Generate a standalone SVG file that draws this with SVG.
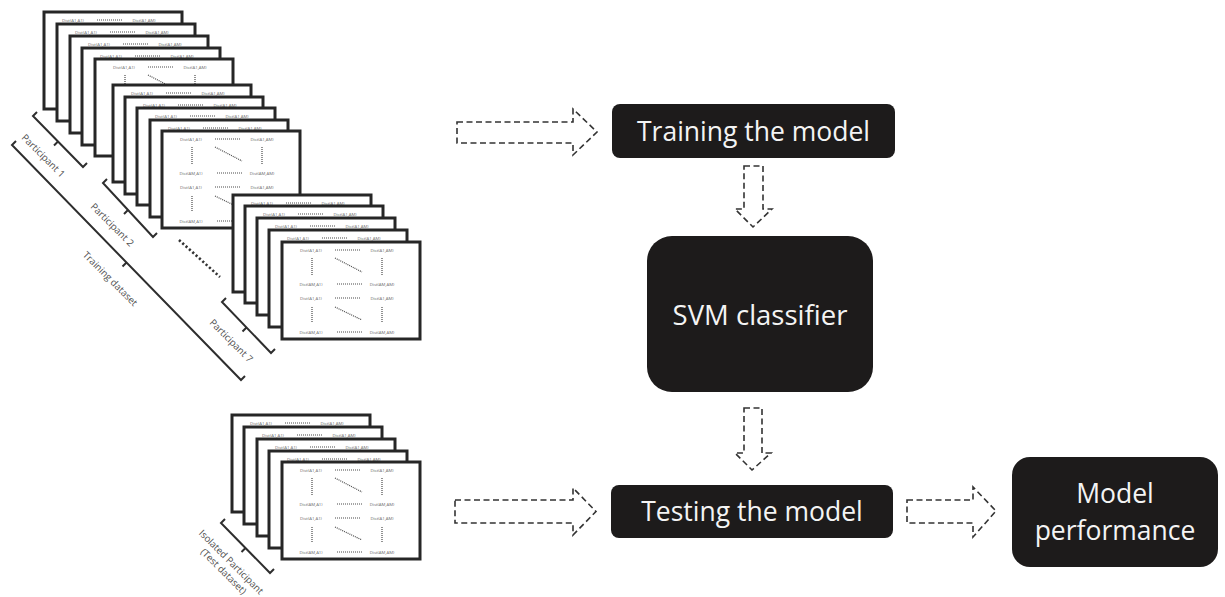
<svg xmlns="http://www.w3.org/2000/svg" xmlns:xlink="http://www.w3.org/1999/xlink" width="1225" height="597" viewBox="0 0 1225 597">
  <style>
    .cell { font-family: "Open Sans", "Liberation Sans", sans-serif; font-size: 4.3px; fill: #6a6a6a; text-anchor: middle; }
    .dots { stroke: #4a4a4a; stroke-width: 1.2; stroke-dasharray: 1 1; fill: none; }
    .frame { fill: #ffffff; stroke: #262626; stroke-width: 3; }
    .bracket { fill: none; stroke: #2e2e2e; stroke-width: 2; stroke-linejoin: miter; }
    .lbl { font-family: "Open Sans", "Liberation Sans", sans-serif; font-size: 9.6px; fill: #4f4f4f; text-anchor: middle; }
    .flow { fill: none; stroke: #333333; stroke-width: 1.6; stroke-dasharray: 6 3.5; }
    .box { fill: #1d1b1b; }
    .boxtext { font-family: "Open Sans", "Liberation Sans", sans-serif; font-size: 26.5px; fill: #f4f4f4; text-anchor: middle; }
  </style>
  <defs>
    <!-- one distance-matrix sheet, 138 x 97 -->
    <g id="sheet">
      <rect class="frame" x="0" y="0" width="138" height="97"/>
      <text class="cell" x="29" y="9.5">Dist(A1,A1)</text>
      <line class="dots" x1="53" y1="8" x2="78" y2="8"/>
      <text class="cell" x="100" y="9.5">Dist(A1,AM)</text>
      <line class="dots" x1="30" y1="16" x2="30" y2="33"/>
      <line class="dots" x1="53" y1="16" x2="80" y2="30"/>
      <line class="dots" x1="100" y1="16" x2="100" y2="33"/>
      <text class="cell" x="29" y="43.5">Dist(AM,A1)</text>
      <line class="dots" x1="55" y1="42" x2="80" y2="42"/>
      <text class="cell" x="100" y="43.5">Dist(AM,AM)</text>
      <text class="cell" x="29" y="57.5">Dist(A1,A1)</text>
      <line class="dots" x1="53" y1="56" x2="78" y2="56"/>
      <text class="cell" x="100" y="57.5">Dist(A1,AM)</text>
      <line class="dots" x1="30" y1="65" x2="30" y2="80"/>
      <line class="dots" x1="53" y1="65" x2="80" y2="78"/>
      <line class="dots" x1="100" y1="65" x2="100" y2="80"/>
      <text class="cell" x="29" y="91.5">Dist(AM,A1)</text>
      <line class="dots" x1="55" y1="90" x2="80" y2="90"/>
      <text class="cell" x="100" y="91.5">Dist(AM,AM)</text>
    </g>
  </defs>

  <rect x="0" y="0" width="1225" height="597" fill="#ffffff"/>

  <!-- training stacks -->
  <g id="participant-1">
    <use xlink:href="#sheet" x="44" y="12"/>
    <use xlink:href="#sheet" x="57" y="24"/>
    <use xlink:href="#sheet" x="70" y="36"/>
    <use xlink:href="#sheet" x="82" y="48"/>
    <use xlink:href="#sheet" x="95" y="59"/>
  </g>
  <g id="participant-2">
    <use xlink:href="#sheet" x="113" y="85"/>
    <use xlink:href="#sheet" x="125" y="97"/>
    <use xlink:href="#sheet" x="137" y="108"/>
    <use xlink:href="#sheet" x="150" y="120"/>
    <use xlink:href="#sheet" x="162" y="131"/>
  </g>
  <g id="participant-7">
    <use xlink:href="#sheet" x="233" y="195"/>
    <use xlink:href="#sheet" x="245" y="206"/>
    <use xlink:href="#sheet" x="257" y="218"/>
    <use xlink:href="#sheet" x="269" y="230"/>
    <use xlink:href="#sheet" x="282" y="242"/>
  </g>
  <!-- ellipsis between participants -->
  <line x1="179" y1="240" x2="220" y2="277" stroke="#333" stroke-width="2.6" stroke-dasharray="2.2 2.3"/>

  <!-- test stack -->
  <g id="test-participant">
    <use xlink:href="#sheet" x="232" y="415"/>
    <use xlink:href="#sheet" x="244" y="427"/>
    <use xlink:href="#sheet" x="257" y="439"/>
    <use xlink:href="#sheet" x="269" y="451"/>
    <use xlink:href="#sheet" x="282" y="462"/>
  </g>

  <!-- brackets and their labels -->
  <g id="brackets">
    <path class="bracket" d="M37,112 L33,116 L83,167 L87,163 M58,141.5 L54,145.5"/>
    <text class="lbl" transform="translate(43,156) rotate(45)" y="3">Participant 1</text>

    <path class="bracket" d="M107,179 L103,183 L153,237 L157,233 M128,210 L124,214"/>
    <text class="lbl" transform="translate(112,225) rotate(45)" y="3">Participant 2</text>

    <path class="bracket" d="M16,141 L12,145 L241,380 L245,376 M126.5,262.5 L122.5,266.5"/>
    <text class="lbl" transform="translate(110,279) rotate(45)" y="3">Training dataset</text>

    <path class="bracket" d="M226,298 L222,302 L271,353 L275,349 M246.5,327.5 L242.5,331.5"/>
    <text class="lbl" transform="translate(231,341) rotate(45)" y="3">Participant 7</text>

    <path class="bracket" d="M225,519 L221,523 L270,573 L274,569 M245.5,548 L241.5,552"/>
    <text class="lbl" transform="translate(228,567) rotate(45)">
      <tspan x="0" y="-2.5">Isolated Participant</tspan>
      <tspan x="0" y="9.5">(Test dataset)</tspan>
    </text>
  </g>

  <!-- process boxes -->
  <g id="training">
    <rect class="box" x="612" y="104" width="283" height="54" rx="8"/>
    <text class="boxtext" x="753.5" y="141">Training the model</text>
  </g>
  <g id="svm">
    <rect class="box" x="647" y="236" width="226" height="156" rx="25"/>
    <text class="boxtext" x="760" y="325" style="font-size:27.5px">SVM classifier</text>
  </g>
  <g id="testing">
    <rect class="box" x="611" y="485" width="282" height="53" rx="8"/>
    <text class="boxtext" x="752" y="521">Testing the model</text>
  </g>
  <g id="performance">
    <rect class="box" x="1012" y="457" width="206" height="110" rx="18"/>
    <text class="boxtext" x="1115" y="503">Model</text>
    <text class="boxtext" x="1115" y="540">performance</text>
  </g>

  <!-- dashed block arrows -->
  <g id="connectors">
    <path class="flow" d="M457,122 L573,122 L573,109 L597,132 L573,155 L573,143 L457,143 Z"/>
    <path class="flow" d="M744,166 L763,166 L763,209 L772,209 L753,227 L735,209 L744,209 Z"/>
    <path class="flow" d="M744,408 L762,408 L762,453 L771,453 L752,470 L735,453 L744,453 Z"/>
    <path class="flow" d="M455,500 L573,500 L573,488 L596,511.5 L573,535 L573,523 L455,523 Z"/>
    <path class="flow" d="M907,500 L973,500 L973,487 L996,511 L973,537 L973,523 L907,523 Z"/>
  </g>
</svg>
